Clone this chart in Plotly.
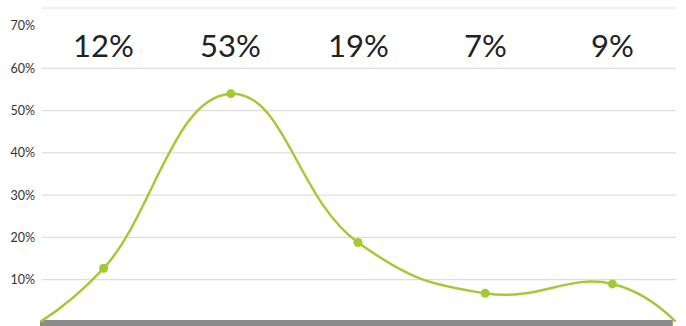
import plotly.graph_objects as go

# data
categories = [0.5, 1.5, 2.5, 3.5, 4.5]
values = [12.7, 54.0, 18.8, 6.8, 9.0]
labels = ["12%", "53%", "19%", "7%", "9%"]
edge_x = [0, 5]
edge_y = [0, 0]
ytick_vals = [10, 20, 30, 40, 50, 60, 70]
ytick_text = ["10%", "20%", "30%", "40%", "50%", "60%", "70%"]

green = "#a5c936"
line_x = [edge_x[0]] + categories + [edge_x[1]]
line_y = [edge_y[0]] + values + [edge_y[1]]

fig = go.Figure()
fig.add_trace(go.Scatter(x=line_x, y=line_y, mode="lines",
                         line=dict(color=green, width=2.5, shape="spline", smoothing=1.3),
                         hoverinfo="skip", cliponaxis=False))
fig.add_trace(go.Scatter(x=categories, y=values, mode="markers",
                         marker=dict(color=green, size=9), cliponaxis=False))

shapes = []
for v in ytick_vals[:-1]:
    shapes.append(dict(type="line", xref="paper", yref="y", x0=0.003, x1=1, y0=v, y1=v,
                       line=dict(color="#dedede", width=1.2), layer="below"))
# top rule
shapes.append(dict(type="line", xref="paper", yref="paper", x0=0.003, x1=1,
                   y0=1 + 18/296, y1=1 + 18/296, line=dict(color="#dedede", width=1.2)))
# bottom bar
shapes.append(dict(type="rect", xref="paper", yref="paper", x0=0, x1=0.995,
                   y0=-4/296, y1=2/296, line=dict(width=0), fillcolor="#8c8c8c", layer="below"))

annotations = []
for x, t in zip(categories, labels):
    annotations.append(dict(x=x, y=1 - 19/296, xref="x", yref="paper", text=t,
                            showarrow=False, font=dict(family="Lato", size=31, color="#222222"),
                            yanchor="middle"))
fig.update_layout(
    width=686, height=326, margin=dict(l=40, r=10, t=26, b=4),
    paper_bgcolor="white", plot_bgcolor="white", showlegend=False,
    shapes=shapes, annotations=annotations,
    xaxis=dict(range=[0, 5], showgrid=False, zeroline=False, showticklabels=False, fixedrange=True),
    yaxis=dict(range=[0, 70], showgrid=False, zeroline=False, tickvals=ytick_vals, ticktext=ytick_text,
               tickfont=dict(family="Lato", size=12.5, color="#333333"), ticklabelstandoff=4),
)
fig.write_html("out.html")
